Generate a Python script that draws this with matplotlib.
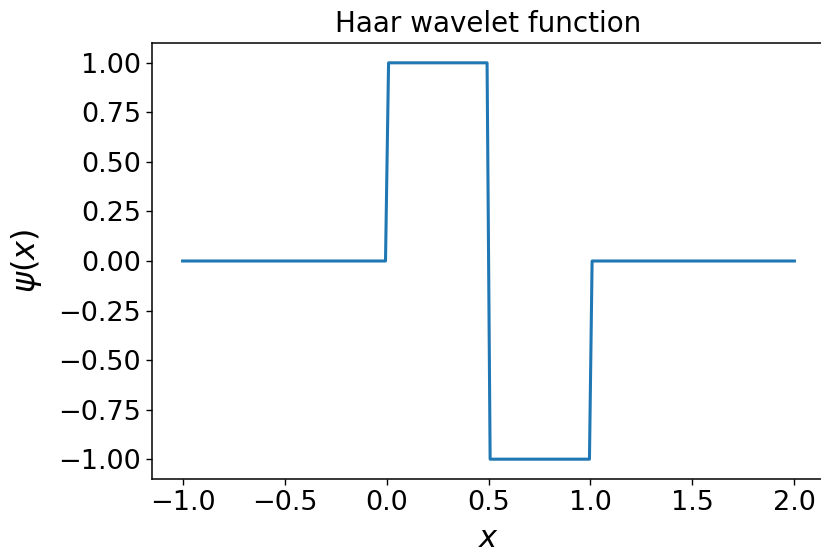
import matplotlib.pyplot as plt

x_pts = [-1.0, -0.005, 0.010, 0.493, 0.508, 0.995, 1.008, 2.0]
psi_pts = [0.0, 0.0, 1.0, 1.0, -1.0, -1.0, 0.0, 0.0]

fig = plt.figure(figsize=(8.21, 5.53), dpi=100)
ax = fig.add_axes([152 / 821, 1 - 479 / 553, (825 - 152) / 821, (479 - 43) / 553])

ax.plot(x_pts, psi_pts, color="#1f77b4", linewidth=2.2)
ax.set_xlim(-1.15, 2.15)
ax.set_ylim(-1.1, 1.1)
ax.set_xticks([-1.0, -0.5, 0.0, 0.5, 1.0, 1.5, 2.0])
ax.set_yticks([-1.0, -0.75, -0.5, -0.25, 0.0, 0.25, 0.5, 0.75, 1.0])
ax.tick_params(labelsize=19.5, length=4.5, width=1.0)
for s in ax.spines.values():
    s.set_linewidth(1.1)

ax.set_title("Haar wavelet function", fontsize=20, pad=8)
ax.set_xlabel(r"$x$", fontsize=22, labelpad=6)
ax.set_ylabel(r"$\psi(x)$", fontsize=23, labelpad=10)

fig.savefig("out.png", dpi=100)
